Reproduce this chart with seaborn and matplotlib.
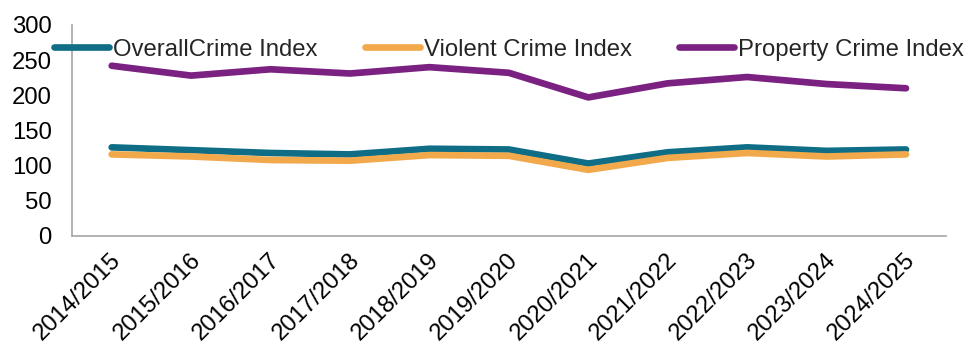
import matplotlib
matplotlib.use("Agg")
import matplotlib.pyplot as plt
from matplotlib.transforms import ScaledTranslation
import seaborn as sns
import pandas as pd

years = ["2014/2015", "2015/2016", "2016/2017", "2017/2018", "2018/2019", "2019/2020",
         "2020/2021", "2021/2022", "2022/2023", "2023/2024", "2024/2025"]
overall = [126, 122, 118, 116, 124, 123, 103, 119, 126, 121, 123]
violent = [116, 113, 108, 107, 115, 114, 94, 111, 118, 113, 116]
property_ = [242, 228, 237, 231, 240, 232, 197, 217, 226, 216, 210]

series_names = ["OverallCrime Index", "Violent Crime Index", "Property Crime Index"]
colors = ["#0F6E86", "#F2A94C", "#7A2181"]

df = pd.concat([
    pd.DataFrame({"Year": years, "Value": vals, "Series": name})
    for name, vals in zip(series_names, [overall, violent, property_])
], ignore_index=True)

sns.set_theme(style="white")
plt.rcParams["font.family"] = ["Liberation Sans", "DejaVu Sans"]

fs = 17.2
fig = plt.figure(figsize=(9.66, 3.42), dpi=100)
ax = fig.add_axes([0.0745, 0.31, 0.9045, 0.617])

sns.lineplot(data=df, x="Year", y="Value", hue="Series", palette=colors,
             hue_order=series_names, sort=False, linewidth=4.8, ax=ax,
             legend=False)
for ln in ax.lines:
    ln.set_solid_capstyle("round")
    ln.set_solid_joinstyle("round")

ax.set_xlim(-0.5, len(years) - 0.5)
ax.set_ylim(0, 300)
ax.set_yticks(range(0, 301, 50))
ax.set_xlabel("")
ax.set_ylabel("")

for side in ["top", "right"]:
    ax.spines[side].set_visible(False)
for side in ["left", "bottom"]:
    ax.spines[side].set_color("#A6A6A6")
    ax.spines[side].set_linewidth(1.2)

ax.tick_params(axis="y", length=0, pad=14.5, labelsize=fs, labelcolor="#000000")
ax.tick_params(axis="x", length=0, pad=15, labelsize=fs, labelcolor="#000000")

# rotated year labels, nudged a few pixels right of their tick
shift = ScaledTranslation(6 / 100, 0, fig.dpi_scale_trans)
for lab in ax.get_xticklabels():
    lab.set_rotation(45)
    lab.set_ha("right")
    lab.set_va("center")
    lab.set_rotation_mode("anchor")
    lab.set_transform(lab.get_transform() + shift)

handles = [plt.Line2D([], [], color=c, linewidth=4.8, solid_capstyle="round") for c in colors]
leg = ax.legend(handles, series_names, ncol=3, loc="center", frameon=False,
                bbox_to_anchor=(0.527, 0.855), bbox_transform=fig.transFigure,
                fontsize=fs, handlelength=2.3, handletextpad=0.17,
                columnspacing=1.97, borderpad=0)

fig.savefig("out.png", dpi=100)
